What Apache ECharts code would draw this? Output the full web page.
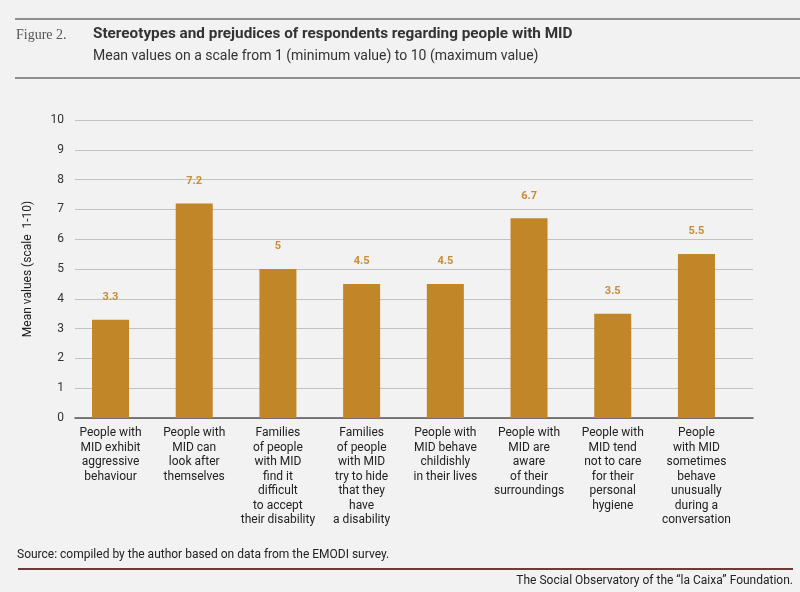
<!DOCTYPE html>
<html lang="en">
<head>
    <meta charset="UTF-8">
    <title>Figure 2</title>
    <style>
        html, body { margin: 0; padding: 0; background: #f2f2f2; }
    </style>
</head>

<body>
<div id="main" style="width:800px;height:592px"></div>
<script src="https://cdn.jsdelivr.net/npm/echarts@6/dist/echarts.min.js"></script>
<script type="text/javascript">
    // categories as they are broken over lines in the figure
    var categories = [
        'People with\nMID exhibit\naggressive\nbehaviour',
        'People with\nMID can\nlook after\nthemselves',
        'Families\nof people\nwith MID\nfind it\ndifficult\nto accept\ntheir disability',
        'Families\nof people\nwith MID\ntry to hide\nthat they\nhave\na disability',
        'People with\nMID behave\nchildishly\nin their lives',
        'People with\nMID are\naware\nof their\nsurroundings',
        'People with\nMID tend\nnot to care\nfor their\npersonal\nhygiene',
        'People\nwith MID\nsometimes\nbehave\nunusually\nduring a\nconversation'
    ];
    var meanValues = [3.3, 7.2, 5, 4.5, 4.5, 6.7, 3.5, 5.5];
    var yTicks = [0, 10, 1]; // min, max, interval

    var font = 'Roboto, "Liberation Sans", sans-serif';
    var barColor = '#c08628';
    var labelColor = '#c98d34';

    const chartDom = document.getElementById('main');
    const myChart = echarts.init(chartDom);
    let option;
    option = {
        backgroundColor: '#f2f2f2',
        textStyle: { fontFamily: font },
        graphic: [
            { type: 'line', shape: { x1: 15, y1: 19, x2: 800, y2: 19 }, style: { stroke: '#6e6e6e', lineWidth: 1.5 } },
            { type: 'line', shape: { x1: 15, y1: 78, x2: 800, y2: 78 }, style: { stroke: '#6e6e6e', lineWidth: 1.5 } },
            { type: 'text', left: 16, top: 28, style: { text: 'Figure 2.', font: '14px "Liberation Serif", serif', fill: '#555' } },
            { type: 'text', left: 93, top: 27, style: { text: 'Stereotypes and prejudices of respondents regarding people with MID', font: 'bold 15.3px ' + font, fill: '#333' } },
            { type: 'text', left: 93, top: 49, style: { text: 'Mean values on a scale from 1 (minimum value) to 10 (maximum value)', font: '14px ' + font, fill: '#333' } },
            { type: 'text', left: 17, top: 549, style: { text: 'Source: compiled by the author based on data from the EMODI survey.', font: '12px ' + font, fill: '#222' } },
            { type: 'line', shape: { x1: 18, y1: 569, x2: 793, y2: 569 }, style: { stroke: '#6b3b38', lineWidth: 2 } },
            { type: 'text', right: 7, top: 575, style: { text: 'The Social Observatory of the \u201cla Caixa\u201d Foundation.', font: '12px ' + font, fill: '#222' } }
        ],
        grid: [
            { left: 75, right: 47, top: 120, bottom: 174 },
            { left: 68.65, right: 61.7, top: 120, bottom: 174 }
        ],
        xAxis: [
            {
                gridIndex: 0, type: 'value', min: 0, max: 1,
                axisLine: { show: true, lineStyle: { color: '#555', width: 1.5 } },
                axisTick: { show: false }, axisLabel: { show: false }, splitLine: { show: false }
            },
            {
                gridIndex: 1, type: 'category', data: categories,
                axisLine: { show: false }, axisTick: { show: false },
                axisLabel: {
                    interval: 0, margin: 8, color: '#222', fontSize: 12,
                    lineHeight: 14.5, fontFamily: font
                }
            }
        ],
        yAxis: [
            {
                gridIndex: 0, type: 'value', min: yTicks[0], max: yTicks[1], interval: yTicks[2],
                name: 'Mean values (scale  1-10)', nameLocation: 'middle', nameGap: 41,
                nameTextStyle: { color: '#222', fontSize: 12, fontFamily: font },
                axisLine: { show: false }, axisTick: { show: false },
                axisLabel: { color: '#333', fontSize: 12, margin: 11 },
                splitLine: { lineStyle: { color: '#c2c2c2', width: 1 } }
            },
            {
                gridIndex: 1, type: 'value', min: yTicks[0], max: yTicks[1], interval: yTicks[2],
                show: false, splitLine: { show: false }
            }
        ],
        series: [
            {
                name: 'Mean values',
                type: 'bar',
                xAxisIndex: 1,
                yAxisIndex: 1,
                data: meanValues,
                barWidth: 37,
                itemStyle: { color: barColor },
                label: {
                    show: true, position: 'top', distance: 17,
                    color: labelColor, fontWeight: 'bold', fontSize: 11
                }
            }
        ]
    };

    option && myChart.setOption(option);
</script>
</body>
</html>
